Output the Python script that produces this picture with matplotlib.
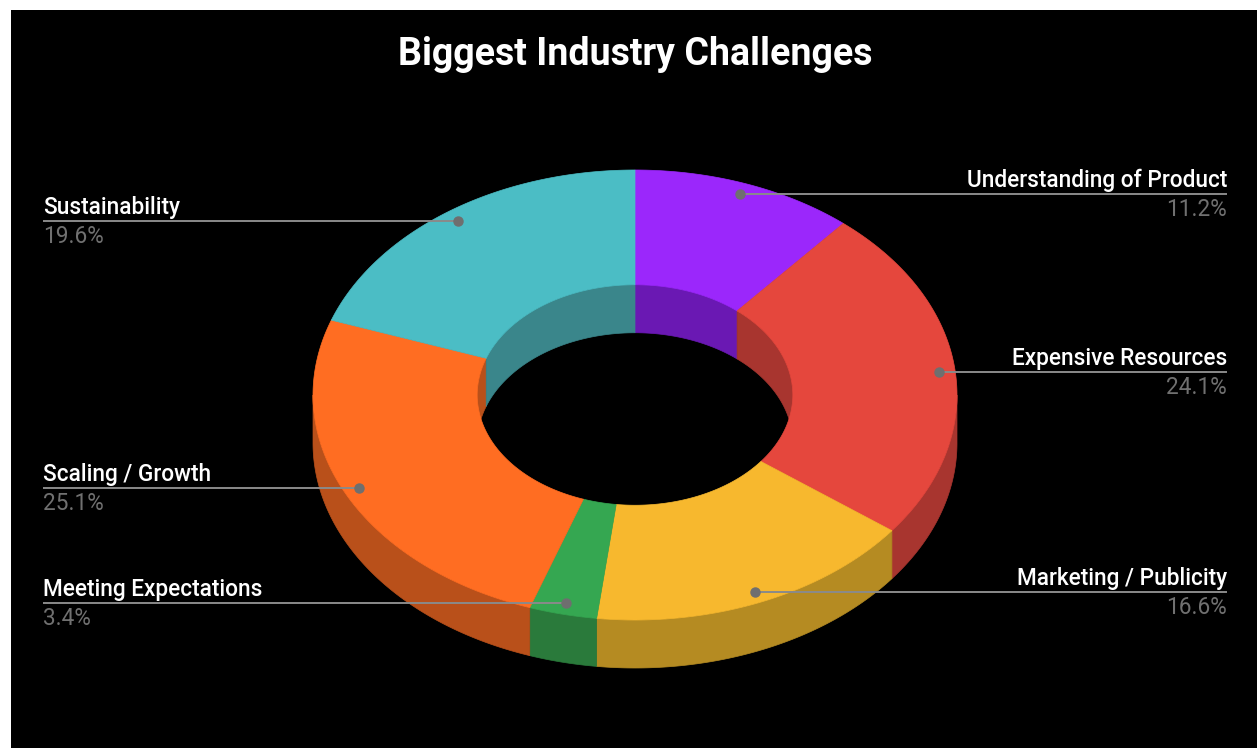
import numpy as np
import matplotlib
matplotlib.use("Agg")
import matplotlib.pyplot as plt
from matplotlib.patches import Polygon, Rectangle

# ---- data ----
categories = ["Understanding of Product", "Expensive Resources", "Marketing / Publicity",
              "Meeting Expectations", "Scaling / Growth", "Sustainability"]
values = [11.2, 24.1, 16.6, 3.4, 25.1, 19.6]
top_colors = ["#9b27fb", "#e5473d", "#f7b82e", "#35a751", "#ff6d22", "#4bbdc5"]
side_colors = ["#6a18b3", "#a8352f", "#b58b22", "#2a7a3b", "#b9501a", "#3a868b"]
title = "Biggest Industry Challenges"

# ---- geometry ----
W, H = 1257, 748
cx, cy = 635, 395
rx, ry = 322, 225
hole = 0.49
depth = 48

fig = plt.figure(figsize=(W / 100, H / 100), dpi=100)
fig.patch.set_facecolor("white")
ax = fig.add_axes([0, 0, 1, 1])
ax.set_xlim(0, W)
ax.set_ylim(H, 0)
ax.axis("off")
ax.add_patch(Rectangle((11, 10), W - 11, H - 10, facecolor="black", edgecolor="none", zorder=0))


def pt(theta_deg, r, dy=0.0):
    t = np.radians(theta_deg)
    return cx + rx * r * np.sin(t), cy - ry * r * np.cos(t) + dy


def arc(a0, a1, r, dy=0.0, n=None):
    if n is None:
        n = max(int(abs(a1 - a0) * 2) + 2, 3)
    th = np.linspace(a0, a1, n)
    xs, ys = pt(th, r, dy)
    return np.column_stack([xs, ys])


def overlap(a0, a1, b0, b1):
    s, e = max(a0, b0), min(a1, b1)
    return (s, e) if e > s else None


total = sum(values)
angles = np.concatenate([[0], np.cumsum(values) / total * 360])

for i in range(len(values)):
    a0, a1 = angles[i], angles[i + 1]
    # inner (back) walls visible through the hole
    for b0, b1 in [(0, 90), (270, 360)]:
        ov = overlap(a0, a1, b0, b1)
        if ov:
            top = arc(ov[0], ov[1], hole)
            bot = arc(ov[1], ov[0], hole, depth)
            ax.add_patch(Polygon(np.vstack([top, bot]), closed=True, facecolor=side_colors[i],
                                 edgecolor=side_colors[i], lw=0.5, zorder=1))
    # outer (front) walls
    ov = overlap(a0, a1, 90, 270)
    if ov:
        top = arc(ov[0], ov[1], 1.0)
        bot = arc(ov[1], ov[0], 1.0, depth)
        ax.add_patch(Polygon(np.vstack([top, bot]), closed=True, facecolor=side_colors[i],
                             edgecolor=side_colors[i], lw=0.5, zorder=1))

for i in range(len(values)):
    a0, a1 = angles[i], angles[i + 1]
    outer = arc(a0, a1, 1.0)
    inner = arc(a1, a0, hole)
    ax.add_patch(Polygon(np.vstack([outer, inner]), closed=True, facecolor=top_colors[i],
                         edgecolor=top_colors[i], lw=0.5, zorder=2))

# ---- labels with leader lines ----
font = "Roboto"
for i in range(len(values)):
    mid = (angles[i] + angles[i + 1]) / 2
    dx, dyp = pt(mid, 0.95)
    left = mid > 180
    if left:
        x_txt = 43
        ax.plot([x_txt, dx], [dyp, dyp], color="#8a8a8a", lw=1.4, zorder=3, solid_capstyle="butt")
        ha = "left"
    else:
        x_txt = 1227
        ax.plot([dx, x_txt], [dyp, dyp], color="#8a8a8a", lw=1.4, zorder=3, solid_capstyle="butt")
        ha = "right"
    ax.plot([dx], [dyp], "o", color="#6f6f6f", ms=6.5, zorder=4)
    ax.text(x_txt, dyp - 7, categories[i], color="white", fontsize=16.3, family=font,
            fontweight="medium", ha=ha, va="baseline", zorder=5)
    ax.text(x_txt, dyp + 22, f"{values[i]:.1f}%", color="#707070", fontsize=16.3, family=font,
            ha=ha, va="baseline", zorder=5)

ax.text(635, 65, title, color="white", fontsize=27, fontweight="bold", family=font,
        ha="center", va="baseline", zorder=5)

fig.savefig("out.png", dpi=100, facecolor=fig.get_facecolor())
